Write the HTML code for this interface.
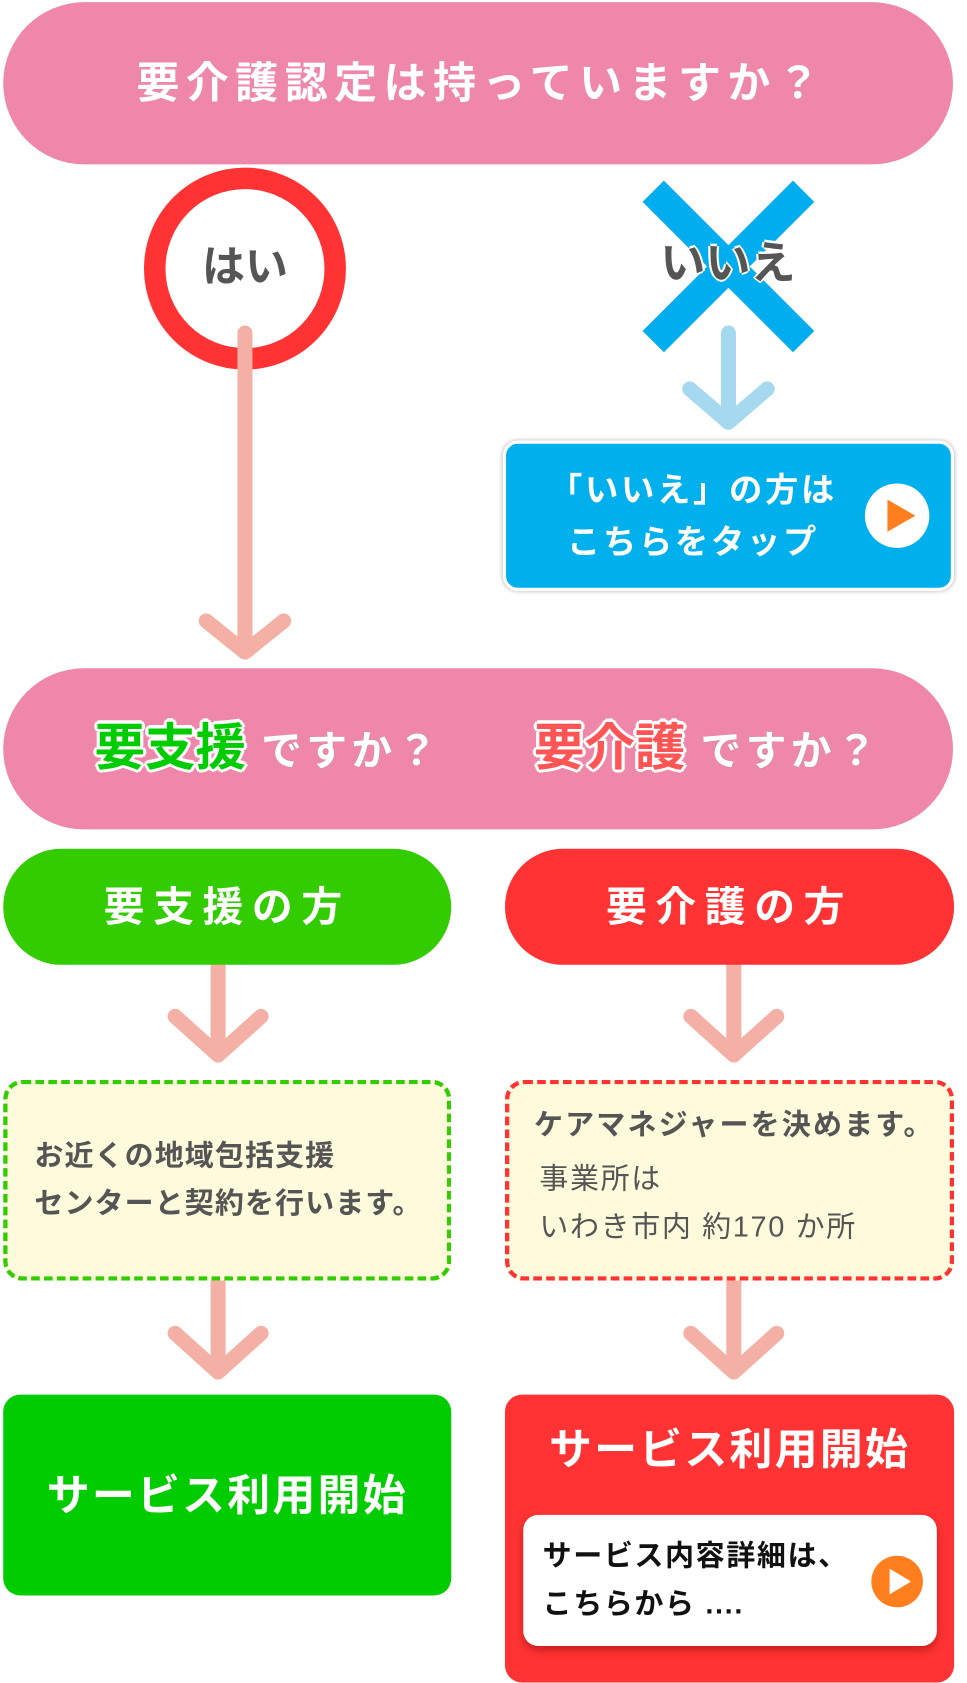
<!DOCTYPE html>
<html><head><meta charset="utf-8"><style>
html,body{margin:0;padding:0;background:#fff;width:967px;height:1683px;overflow:hidden}
#s{position:absolute;left:0;top:0;width:900px;height:1566px;transform:scale(1.0744);transform-origin:0 0;font-family:"Liberation Sans","Noto Sans CJK JP",sans-serif;font-weight:bold}
.a{position:absolute;box-sizing:border-box}
.c{display:flex;align-items:center;justify-content:center;color:#fff}
svg{position:absolute;left:0;top:0}
</style></head><body><div id="s">
<div class="a c" style="left:3px;top:2px;width:884px;height:151px;border-radius:76px;background:#ef87ab;font-size:40px;letter-spacing:6px;padding-bottom:8px;padding-left:6px">要介護認定は持っていますか？</div>
<svg width="900" height="1566">
<circle cx="228" cy="250" r="84" fill="#fff" stroke="#ff3333" stroke-width="20"/>
<line x1="608" y1="178" x2="748" y2="318" stroke="#00aeef" stroke-width="28"/>
<line x1="748" y1="178" x2="608" y2="318" stroke="#00aeef" stroke-width="28"/>
<g stroke="#f4b0a4" stroke-width="14" stroke-linecap="round" fill="none" stroke-linejoin="round">
<line x1="228" y1="310" x2="228" y2="602"/><polyline points="192,578 228,607 264,578"/>
<line x1="203" y1="885" x2="203" y2="980"/><polyline points="163,946 203,982 243,946"/>
<line x1="683" y1="885" x2="683" y2="980"/><polyline points="643,946 683,982 723,946"/>
<line x1="203" y1="1175" x2="203" y2="1275"/><polyline points="163,1241 203,1277 243,1241"/>
<line x1="683" y1="1175" x2="683" y2="1275"/><polyline points="643,1241 683,1277 723,1241"/>
</g>
<g stroke="#a6d9f0" stroke-width="14" stroke-linecap="round" fill="none" stroke-linejoin="round">
<line x1="678" y1="310" x2="678" y2="390"/><polyline points="642,362 678,393 714,362"/>
</g>
</svg>
<div class="a c" style="left:148px;top:210px;width:160px;height:70px;color:#555;font-size:40px">はい</div>
<div class="a c" style="left:585px;top:206px;width:185px;height:70px;color:#555;font-size:42px;text-shadow:-2px 0 #fff,2px 0 #fff,0 -2px #fff,0 2px #fff">いいえ</div>
<div class="a" style="left:468px;top:410px;width:420px;height:140px;border-radius:14px;background:#00b0ec;border:3px solid #fff;box-shadow:0 0 4px rgba(0,0,0,.3)"></div>
<div class="a" style="left:480px;top:433px;width:330px;color:#fff;font-size:31px;line-height:48px;text-align:center;letter-spacing:2.5px">「いいえ」の方は<br>こちらをタップ</div>
<div class="a" style="left:805px;top:450px;width:60px;height:60px;border-radius:50%;background:#fff"></div>
<div class="a" style="left:826px;top:465px;width:0;height:0;border-left:26px solid #ff7f1e;border-top:15px solid transparent;border-bottom:15px solid transparent"></div>
<div class="a" style="left:3px;top:622px;width:884px;height:150px;border-radius:75px;background:#ef87ab"></div>
<div class="a" style="left:88px;top:668px;line-height:56px;white-space:nowrap;color:#fff;text-shadow:0 0 1px #999"><span style="font-size:47px;color:#0c0;text-shadow:-3px 0 #fff,3px 0 #fff,0 -3px #fff,0 3px #fff,-2px -2px #fff,2px 2px #fff,2px -2px #fff,-2px 2px #fff">要支援</span><span style="font-size:38px;letter-spacing:4px;margin-left:14px">ですか？</span></div>
<div class="a" style="left:497px;top:668px;line-height:56px;white-space:nowrap;color:#fff;text-shadow:0 0 1px #999"><span style="font-size:47px;color:#f55;text-shadow:-3px 0 #fff,3px 0 #fff,0 -3px #fff,0 3px #fff,-2px -2px #fff,2px 2px #fff,2px -2px #fff,-2px 2px #fff">要介護</span><span style="font-size:38px;letter-spacing:4px;margin-left:14px">ですか？</span></div>
<div class="a c" style="left:3px;top:790px;width:417px;height:108px;border-radius:54px;background:#33cc00;font-size:38px;letter-spacing:8px;padding-bottom:8px">要支援の方</div>
<div class="a c" style="left:470px;top:790px;width:418px;height:108px;border-radius:54px;background:#ff3333;font-size:38px;letter-spacing:8px;padding-bottom:8px">要介護の方</div>
<div class="a" style="left:3px;top:1005px;width:417px;height:187px;border-radius:18px;background:#fefbdc;border:4px dashed #33cc00"></div>
<div class="a" style="left:32px;top:1054px;color:#555;font-size:27px;line-height:44px;white-space:nowrap;letter-spacing:1px">お近くの地域包括支援<br>センターと契約を行います。</div>
<div class="a" style="left:470px;top:1005px;width:418px;height:187px;border-radius:18px;background:#fefbdc;border:4px dashed #ff3333"></div>
<div class="a" style="left:497px;top:1028px;color:#555;font-size:27px;line-height:38px;white-space:nowrap;letter-spacing:2px">ケアマネジャーを決めます。</div>
<div class="a" style="left:502px;top:1075px;color:#555;font-size:27px;font-weight:normal;line-height:45px;white-space:nowrap;letter-spacing:1.5px">事業所は<br>いわき市内 約170 か所</div>
<div class="a c" style="left:3px;top:1298px;width:417px;height:187px;border-radius:16px;background:#00cc00;font-size:40px;letter-spacing:2px;padding-bottom:6px">サービス利用開始</div>
<div class="a" style="left:470px;top:1298px;width:418px;height:268px;border-radius:16px;background:#ff3333"></div>
<div class="a c" style="left:470px;top:1318px;width:418px;height:56px;font-size:40px;letter-spacing:2px">サービス利用開始</div>
<div class="a" style="left:487px;top:1410px;width:385px;height:122px;border-radius:14px;background:#fff;box-shadow:0 4px 8px rgba(120,0,0,.4)"></div>
<div class="a" style="left:505px;top:1426px;color:#111;font-size:27px;line-height:45px;white-space:nowrap;letter-spacing:1.5px">サービス内容詳細は、<br>こちらから ....</div>
<div class="a" style="left:811px;top:1448px;width:48px;height:48px;border-radius:50%;background:#ff7f1e"></div>
<div class="a" style="left:828px;top:1460px;width:0;height:0;border-left:20px solid #fff;border-top:12px solid transparent;border-bottom:12px solid transparent"></div>
</div></body></html>
